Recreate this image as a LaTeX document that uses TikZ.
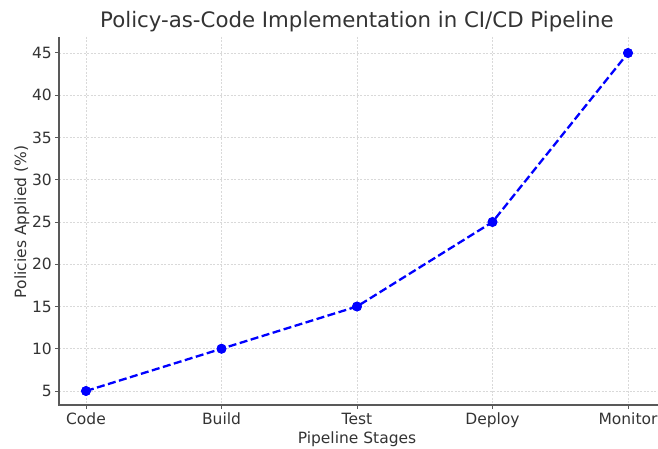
\documentclass[tikz,border=0pt]{standalone}
\usepackage{fontspec}
\setmainfont{DejaVu Sans}
\begin{document}
\begin{tikzpicture}[x=1pt,y=-1pt,
  txt/.style={text=black!80, inner sep=0pt, font=\fontsize{15.5}{18}\selectfont},
  gridline/.style={draw=black!15, line width=0.6pt, dash pattern=on 2pt off 1.5pt},
  spine/.style={draw=black!65, line width=1.3pt},
  tickmark/.style={draw=black!65, line width=1pt},
  pt/.style={circle, fill=blue, draw=none, minimum size=10pt, inner sep=0pt},
  series/.style={draw=blue, line width=2.3pt, dash pattern=on 8pt off 3.5pt}]
\useasboundingbox (0,0) rectangle (658,449);
% axes geometry
\coordinate (o) at (59,405);
\coordinate (tl) at (59,37);
\coordinate (br) at (658,405);
% grid
\foreach \i in {0,...,4} {
  \draw[gridline] ({86+135.5*\i},37) -- ({86+135.5*\i},405);
}
\foreach \v in {5,10,...,45} {
  \draw[gridline] (59,{391-(\v-5)*8.45}) -- (658,{391-(\v-5)*8.45});
}
% spines
\draw[spine] (tl) -- (o) -- (br);
% y ticks
\foreach \v in {5,10,...,45} {
  \draw[tickmark] (55,{391-(\v-5)*8.45}) -- (59,{391-(\v-5)*8.45});
  \node[txt, anchor=east] (y\v) at (52,{391-(\v-5)*8.45}) {\v};
}
% x ticks
\foreach \i/\lab in {0/Code,1/Build,2/Test,3/Deploy,4/Monitor} {
  \draw[tickmark] ({86+135.5*\i},405) -- ({86+135.5*\i},409);
  \node[txt, anchor=base] (x\i) at ({86+135.5*\i},424) {\lab};
}
% labels
\node[txt, anchor=base] (xlabel) at (357,443) {Pipeline Stages};
\node[txt, anchor=base, rotate=90] (ylabel) at (26,222) {Policies Applied (\%)};
\node[txt, anchor=base, font=\fontsize{21.3}{25}\selectfont] (title) at (357,28) {Policy-as-Code Implementation in CI/CD Pipeline};
% data
\node[pt] (p0) at (86,391) {};
\node[pt] (p1) at ({86+135.5},{391-5*8.45}) {};
\node[pt] (p2) at ({86+2*135.5},{391-10*8.45}) {};
\node[pt] (p3) at ({86+3*135.5},{391-20*8.45}) {};
\node[pt] (p4) at ({86+4*135.5},{391-40*8.45}) {};
\draw[series] (p0.center) -- (p1.center) -- (p2.center) -- (p3.center) -- (p4.center);
\foreach \n in {p0,p1,p2,p3,p4} { \fill[blue] (\n) circle (4.8pt); }
\end{tikzpicture}
\end{document}
